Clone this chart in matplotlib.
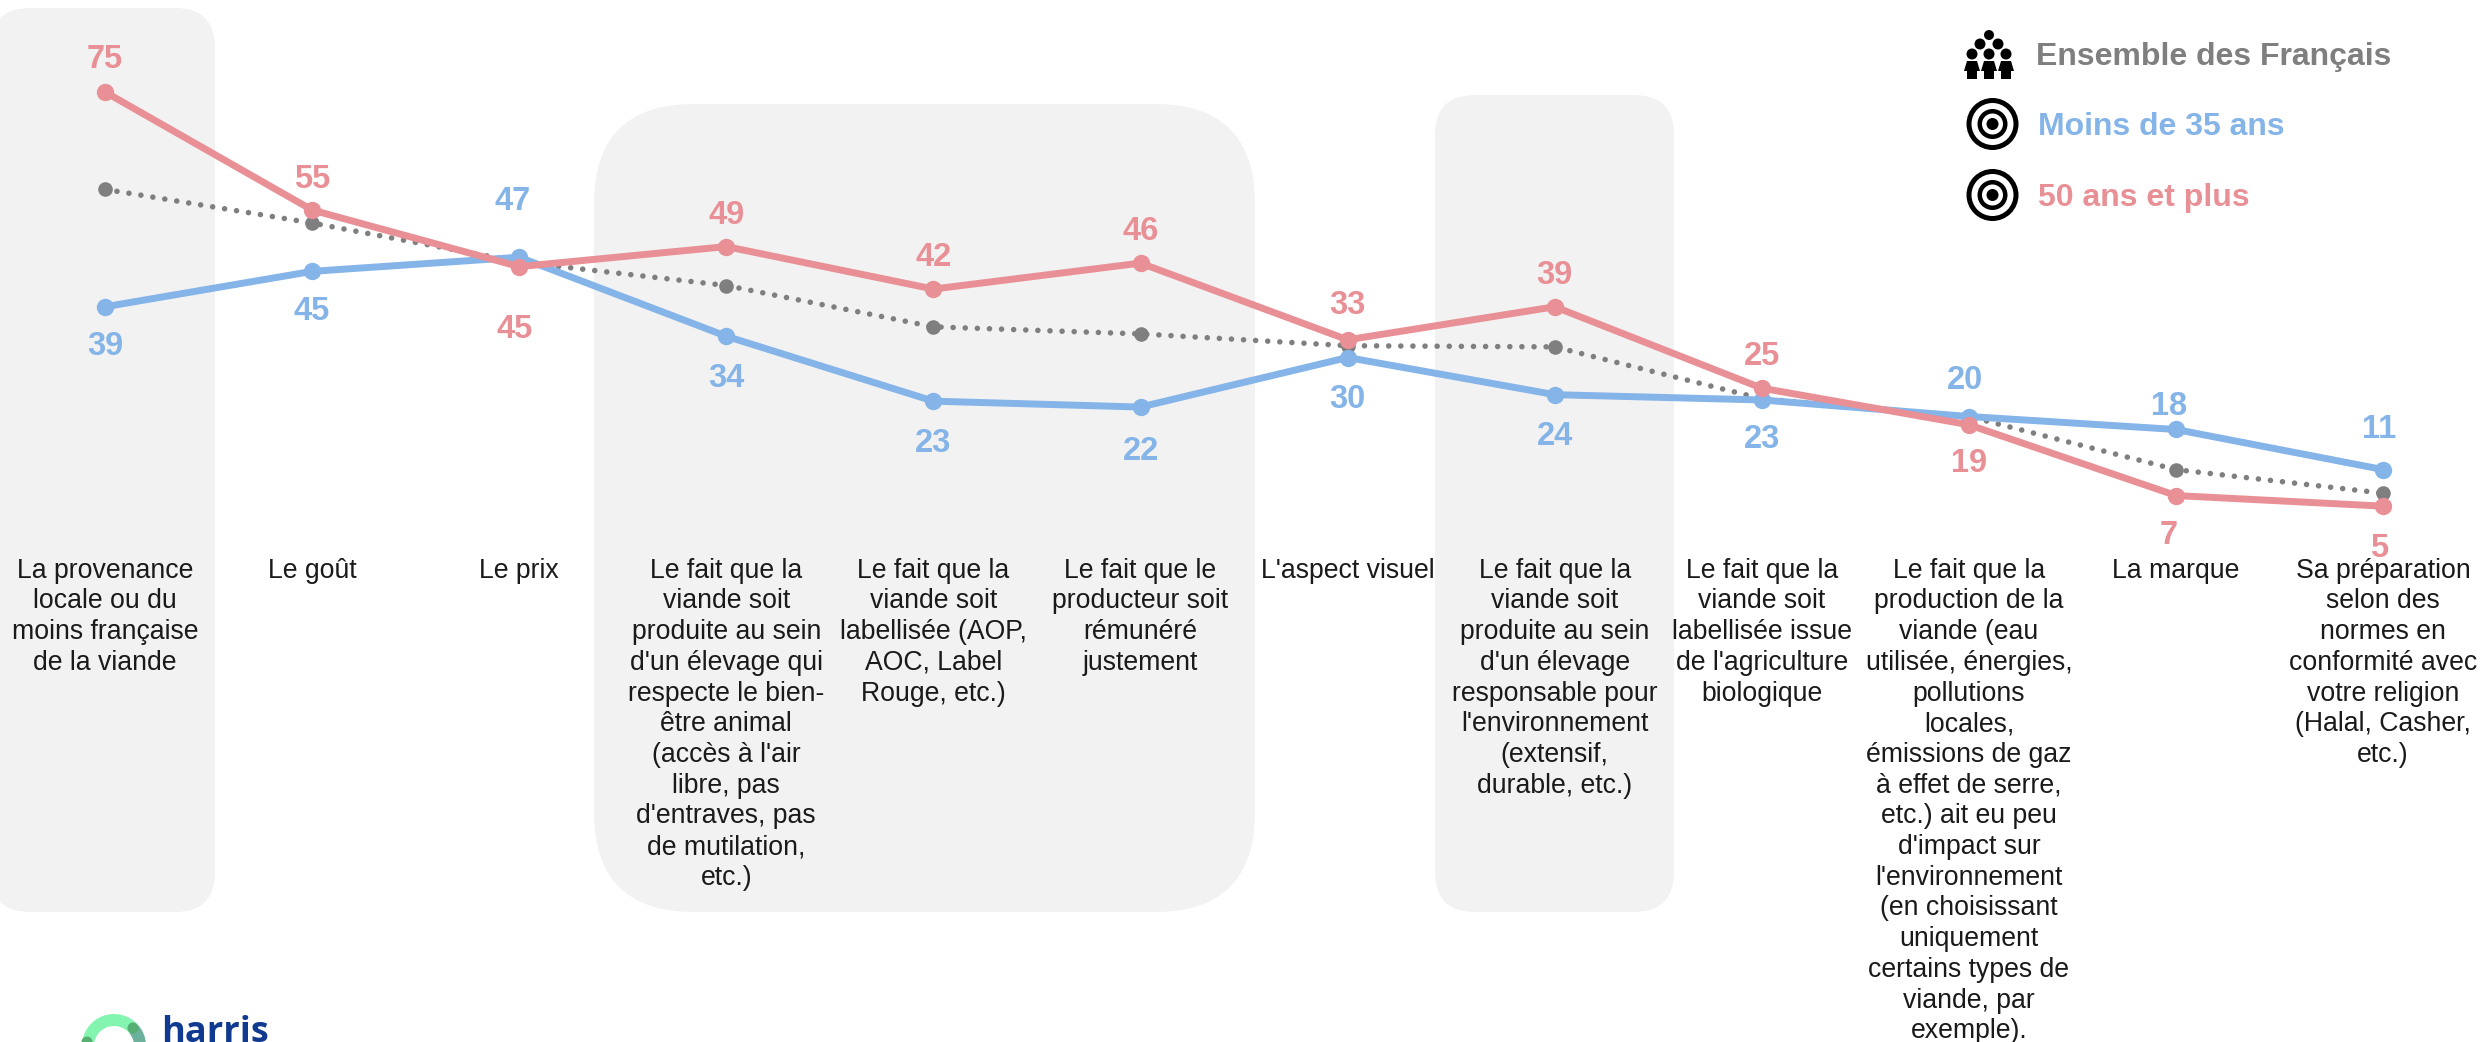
import numpy as np
import matplotlib
matplotlib.use("Agg")
import matplotlib.pyplot as plt
from matplotlib.patches import Circle, FancyBboxPatch, Polygon, Wedge

plt.rcParams['font.family'] = ['Liberation Sans', 'DejaVu Sans']

categories = [
    "La provenance\nlocale ou du\nmoins française\nde la viande",
    "Le goût",
    "Le prix",
    "Le fait que la\nviande soit\nproduite au sein\nd'un élevage qui\nrespecte le bien-\nêtre animal\n(accès à l'air\nlibre, pas\nd'entraves, pas\nde mutilation,\netc.)",
    "Le fait que la\nviande soit\nlabellisée (AOP,\nAOC, Label\nRouge, etc.)",
    "Le fait que le\nproducteur soit\nrémunéré\njustement",
    "L'aspect visuel",
    "Le fait que la\nviande soit\nproduite au sein\nd'un élevage\nresponsable pour\nl'environnement\n(extensif,\ndurable, etc.)",
    "Le fait que la\nviande soit\nlabellisée issue\nde l'agriculture\nbiologique",
    "Le fait que la\nproduction de la\nviande (eau\nutilisée, énergies,\npollutions\nlocales,\némissions de gaz\nà effet de serre,\netc.) ait eu peu\nd'impact sur\nl'environnement\n(en choisissant\nuniquement\ncertains types de\nviande, par\nexemple).",
    "La marque",
    "Sa préparation\nselon des\nnormes en\nconformité avec\nvotre religion\n(Halal, Casher,\netc.)",
]

# values, the printed labels are these rounded
# (the grey series has no printed labels)
ensemble = [58.5, 52.8, 46.2, 42.2, 35.2, 34, 32, 31.8, 23, 20, 11, 7]
moins_35 = [38.6, 44.6, 47, 33.6, 22.6, 21.6, 30, 23.7, 22.8, 20, 17.8, 11]
plus_50 = [75, 55, 45.4, 48.8, 41.6, 46, 33, 38.6, 24.8, 18.6, 6.6, 4.8]

legend_labels = ["Ensemble des Français", "Moins de 35 ans", "50 ans et plus"]

GREY = "#7F7F7F"
BLUE = "#85B4E8"
RED = "#E89096"
PANEL = "#F2F2F2"

W, H = 2484, 1042
fig = plt.figure(figsize=(W / 100, H / 100), dpi=100, facecolor="white")

# pixel canvas for the panels, the legend icons and the logo
deco = fig.add_axes([0, 0, 1, 1], zorder=0)
deco.set_xlim(0, W)
deco.set_ylim(H, 0)
deco.axis("off")


def panel(x0, x1, y0, y1, radius):
    deco.add_patch(FancyBboxPatch((x0 + radius, y0 + radius), x1 - x0 - 2 * radius, y1 - y0 - 2 * radius,
                                  boxstyle=f"round,pad={radius},rounding_size={radius}",
                                  fc=PANEL, ec="none"))


panel(-10, 215, 8, 912, 40)
panel(594, 1255, 104, 912, 100)
panel(1435, 1674, 95, 912, 40)

# chart axes: x0 at 105 px, one category = 207.1 px, y = 534.5 - 5.9 * value px
bottom_px = 548
ax = fig.add_axes([0, 1 - bottom_px / H, 1, bottom_px / H], zorder=1)
ax.patch.set_alpha(0)
x = np.arange(len(categories))
ax.set_xlim(-105 / 207.1, (W - 105) / 207.1)
ax.set_ylim((534.5 - bottom_px) / 5.9, 534.5 / 5.9)

ax.plot(x, ensemble, color=GREY, lw=4, linestyle=(0, (0.01, 2.17)), dash_capstyle="round",
        marker="o", ms=10.5, mec="none", zorder=2)
ax.plot(x, moins_35, color=BLUE, lw=5, marker="o", ms=12.5, mec="none", zorder=3)
ax.plot(x, plus_50, color=RED, lw=5, marker="o", ms=12.5, mec="none", zorder=4)

# label offsets in px, positive means above the point
red_offsets = [32, 31, -63, 31, 32, 32, 34, 31, 32, -39, -40, -42]
blue_offsets = [-40, -40, 56, -42, -42, -44, -42, -42, -40, 36, 23, 40]
red_shift = [0, 0, -5, 0, 0, 0, 0, 0, 0, 0, -7, -4]
blue_shift = [0, 0, -7, 0, 0, 0, 0, 0, 0, -4, -7, -4]

for series, offsets, shifts, color in [(moins_35, blue_offsets, blue_shift, BLUE),
                                       (plus_50, red_offsets, red_shift, RED)]:
    for i, v in enumerate(series):
        ax.annotate(f"{v:.0f}", (i, v), xytext=(shifts[i] * 0.72, offsets[i] * 0.72),
                    textcoords="offset points", ha="center", va="center",
                    fontsize=23.5, fontweight="bold", color=color, zorder=5)

ax.set_xticks(x)
ax.set_xticklabels(categories, fontsize=19.2, color="#1A1A1A", linespacing=1.235)
ax.tick_params(axis="x", length=0, pad=7)
ax.set_yticks([])
for spine in ax.spines.values():
    spine.set_visible(False)

# legend
for label, y, color, tx in zip(legend_labels, [57, 127, 198], [GREY, BLUE, RED], [2036, 2038, 2038]):
    deco.text(tx, y, label, color=color, fontsize=23, fontweight="bold", va="center", ha="left")

for cy in [124, 195]:
    for r, c in [(26, "black"), (21, "white"), (15, "black"), (10.5, "white"), (6, "black")]:
        deco.add_patch(Circle((1992.5, cy), r, fc=c, ec="none"))

for hx, hy, r in [(1989, 35, 5), (1980, 44, 5.5), (1998, 44, 5.5), (1972, 54, 5.5), (1989, 54, 5.5), (2006, 54, 5.5)]:
    deco.add_patch(Circle((hx, hy), r, fc="black", ec="none"))
for cx in [1972, 1989, 2006]:
    deco.add_patch(Polygon([(cx - 5, 61), (cx + 5, 61), (cx + 8, 71), (cx + 5, 71), (cx + 5, 79),
                            (cx - 5, 79), (cx - 5, 71), (cx - 8, 71)], fc="black", ec="none"))

# logo, cut off by the bottom of the picture
deco.add_patch(Wedge((114, 1046), 32, 180, 320, width=12, fc="#84F5B0", ec="none"))
deco.add_patch(Wedge((114, 1046), 32, 320, 370, width=12, fc="#6BB19B", ec="none"))
deco.add_patch(Circle((133, 1028), 5.5, fc="#57AF72", ec="none"))
deco.add_patch(Circle((87, 1042), 5.5, fc="#57AF72", ec="none"))
deco.text(161, 1042, "harris", color="#0F3A8F", fontsize=26, fontweight="bold",
          family="Open Sans", va="baseline", ha="left")

fig.savefig("out.png", dpi=100)
